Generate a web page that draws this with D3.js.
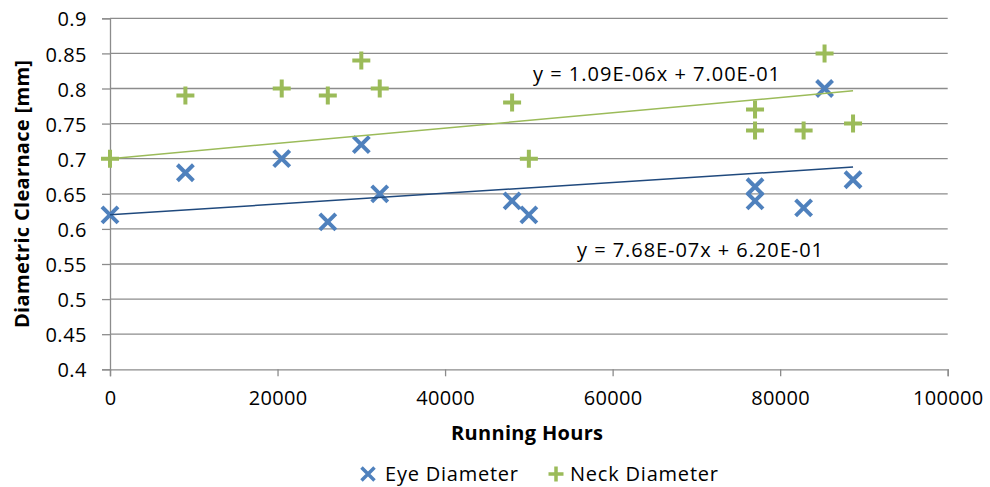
<!DOCTYPE html>
<html lang="en">
<head>
    <meta charset="UTF-8">
    <script src="https://d3js.org/d3.v7.min.js"></script>
    <style>
        body { margin: 0; background: #fff; }
        svg text { font-family: 'Open Sans', 'Noto Sans', sans-serif; fill: #000; }
    </style>
</head>
<body>
    <div id="chart"></div>
    <script>
        // Data
        const eyeHours = [0, 9000, 20500, 26000, 30000, 32200, 48000, 50000, 77000, 77000, 82800, 85300, 88700];
        const eyeValues = [0.62, 0.68, 0.70, 0.61, 0.72, 0.65, 0.64, 0.62, 0.66, 0.64, 0.63, 0.80, 0.67];
        const neckHours = [0, 9000, 20500, 26000, 30000, 32200, 48000, 50000, 77000, 77000, 82800, 85300, 88700];
        const neckValues = [0.70, 0.79, 0.80, 0.79, 0.84, 0.80, 0.78, 0.70, 0.77, 0.74, 0.74, 0.85, 0.75];

        // Trendline coefficients (slope, intercept) as printed on the chart
        const eyeTrend = [7.68e-7, 0.620];
        const neckTrend = [1.09e-6, 0.700];
        const eyeLabel = "y = 7.68E-07x + 6.20E-01";
        const neckLabel = "y = 1.09E-06x + 7.00E-01";

        const xTicks = [0, 20000, 40000, 60000, 80000, 100000];
        const yTicks = [0.4, 0.45, 0.5, 0.55, 0.6, 0.65, 0.7, 0.75, 0.8, 0.85, 0.9];

        const width = 990, height = 487;
        const blue = "#4F81BD", green = "#9BBB59", darkBlue = "#1F497D", grid = "#8c8c8c";

        const svg = d3.select("#chart").append("svg")
            .attr("width", width)
            .attr("height", height);

        const x = d3.scaleLinear().domain([0, 100000]).range([110, 947.7]);
        const y = d3.scaleLinear().domain([0.4, 0.9]).range([369.3, 18.3]);

        // Gridlines
        svg.append("g").selectAll("line")
            .data(yTicks.filter(d => d > 0.4))
            .join("line")
            .attr("x1", x(0)).attr("x2", x(100000))
            .attr("y1", d => y(d)).attr("y2", d => y(d))
            .attr("stroke", grid).attr("stroke-width", 1.3);

        // Y axis
        const yAxis = svg.append("g")
            .attr("transform", `translate(${x(0)},0)`)
            .call(d3.axisLeft(y).tickValues(yTicks).tickSize(8).tickPadding(15).tickFormat(d => String(+d.toFixed(2))));
        yAxis.select(".domain").attr("stroke", grid).attr("stroke-width", 1.3);
        yAxis.selectAll(".tick line").attr("stroke", grid).attr("stroke-width", 1.3);
        yAxis.selectAll("text").attr("font-size", 20).attr("letter-spacing", 0.5).attr("dy", "0.38em")
            .attr("font-family", "'Open Sans', sans-serif").attr("fill", "#000");

        // X axis
        const xAxis = svg.append("g")
            .attr("transform", `translate(0,${y(0.4)})`)
            .call(d3.axisBottom(x).tickValues(xTicks).tickSize(7).tickPadding(15).tickFormat(d3.format("d")));
        xAxis.select(".domain").attr("stroke", grid).attr("stroke-width", 1.3);
        xAxis.selectAll(".tick line").attr("stroke", grid).attr("stroke-width", 1.3);
        xAxis.selectAll("text").attr("font-size", 20).attr("letter-spacing", 0.3)
            .attr("font-family", "'Open Sans', sans-serif").attr("fill", "#000");

        // Axis titles
        svg.append("text")
            .attr("x", 527).attr("y", 440)
            .attr("text-anchor", "middle")
            .attr("font-size", 20).attr("font-weight", "bold")
            .attr("textLength", 152)
            .text("Running Hours");
        svg.append("text")
            .attr("transform", "translate(29,194) rotate(-90)")
            .attr("text-anchor", "middle")
            .attr("font-size", 20).attr("font-weight", "bold")
            .attr("textLength", 268)
            .text("Diametric Clearnace [mm]");

        // Markers
        function drawX(g, cx, cy, r, sw) {
            g.append("path")
                .attr("d", `M${cx - r},${cy - r}L${cx + r},${cy + r}M${cx - r},${cy + r}L${cx + r},${cy - r}`)
                .attr("stroke", blue).attr("stroke-width", sw).attr("fill", "none");
        }
        function drawPlus(g, cx, cy, r, sw) {
            g.append("path")
                .attr("d", `M${cx - r},${cy}L${cx + r},${cy}M${cx},${cy - r}L${cx},${cy + r}`)
                .attr("stroke", green).attr("stroke-width", sw).attr("fill", "none");
        }

        const marks = svg.append("g");
        eyeHours.forEach((h, i) => drawX(marks, x(h), y(eyeValues[i]), 8, 4));
        neckHours.forEach((h, i) => drawPlus(marks, x(h), y(neckValues[i]), 9, 4));

        // Trendlines
        const eyeMax = d3.max(eyeHours), neckMax = d3.max(neckHours);
        svg.append("line")
            .attr("x1", x(0)).attr("y1", y(eyeTrend[1]))
            .attr("x2", x(eyeMax)).attr("y2", y(eyeTrend[0] * eyeMax + eyeTrend[1]))
            .attr("stroke", darkBlue).attr("stroke-width", 1.5);
        svg.append("line")
            .attr("x1", x(0)).attr("y1", y(neckTrend[1]))
            .attr("x2", x(neckMax)).attr("y2", y(neckTrend[0] * neckMax + neckTrend[1]))
            .attr("stroke", green).attr("stroke-width", 1.5);

        // Trendline labels
        svg.append("text")
            .attr("x", 533).attr("y", 81)
            .attr("font-size", 20).attr("fill", green)
            .attr("textLength", 247)
            .text(neckLabel);
        svg.append("text")
            .attr("x", 577).attr("y", 257)
            .attr("font-size", 20).attr("fill", darkBlue)
            .attr("textLength", 246)
            .text(eyeLabel);

        // Legend
        const legend = svg.append("g");
        drawX(legend, 368, 474, 6.5, 3.5);
        legend.append("text").attr("x", 385).attr("y", 481).attr("font-size", 20)
            .attr("textLength", 133).text("Eye Diameter");
        drawPlus(legend, 556, 474, 7.5, 3.5);
        legend.append("text").attr("x", 570).attr("y", 481).attr("font-size", 20)
            .attr("textLength", 148).text("Neck Diameter");
    </script>
</body>
</html>
